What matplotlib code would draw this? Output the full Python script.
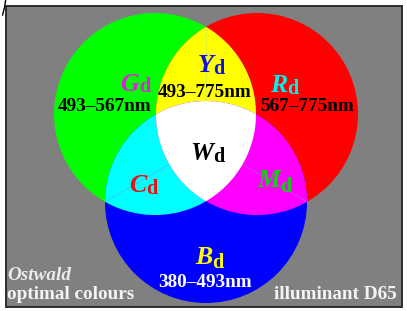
import numpy as np
import matplotlib
matplotlib.use('Agg')
import matplotlib.pyplot as plt
from matplotlib.patches import Circle, Polygon, Rectangle

# circle geometry (pixel units of the 407x311 picture)
radius = 101
centres = {'G': (155, 114), 'R': (257, 114), 'B': (206, 202)}
fills = {'G': '#00ff00', 'R': '#ff0000', 'B': '#0000ff'}
pairs = [('G', 'R', '#ffff00'), ('G', 'B', '#00ffff'), ('R', 'B', '#ff00ff')]

# labels: letter, complementary colour, joint x, baseline y, drop of the "d"
letters = ['G', 'Y', 'R', 'W', 'C', 'M', 'B']
letter_cols = ['#e020e0', '#1010e0', '#00f0f0', '#000000', '#e81010', '#10d010', '#ffff00']
letter_x = [138.5, 213, 287, 213, 146, 280, 212]
letter_y = [91, 72.5, 92.5, 160.5, 191.5, 187, 263.5]
sub_drop = [1, 2, 2, 1, 3, 5, 5]

ranges = ['493\u2013567nm', '493\u2013775nm', '567\u2013775nm', '380\u2013493nm']
range_cols = ['black', 'black', 'black', 'white']
range_x = [105, 205, 307, 205]
range_y = [111, 97, 111, 287]

serif = 'Liberation Serif'


def region(keys, n=2000):
    # polygon of the intersection of circles in keys
    pts = []
    t = np.linspace(0, 2 * np.pi, n, endpoint=False)
    for k in keys:
        cx, cy = centres[k]
        px = cx + radius * np.cos(t)
        py = cy + radius * np.sin(t)
        ok = np.ones(n, bool)
        for o in keys:
            if o == k:
                continue
            ox, oy = centres[o]
            ok &= (px - ox) ** 2 + (py - oy) ** 2 <= radius ** 2 + 1e-6
        pts.append(np.column_stack([px[ok], py[ok]]))
    pts = np.vstack(pts)
    c = pts.mean(axis=0)
    order = np.argsort(np.arctan2(pts[:, 1] - c[1], pts[:, 0] - c[0]))
    return pts[order]


def outer_point(a, b):
    # intersection of two circles farther from the third centre
    (x1, y1), (x2, y2) = centres[a], centres[b]
    d = np.hypot(x2 - x1, y2 - y1)
    mx, my = (x1 + x2) / 2, (y1 + y2) / 2
    h = np.sqrt(radius ** 2 - (d / 2) ** 2)
    ux, uy = -(y2 - y1) / d, (x2 - x1) / d
    other = [k for k in centres if k not in (a, b)][0]
    ox, oy = centres[other]
    cands = [(mx + h * ux, my + h * uy), (mx - h * ux, my - h * uy)]
    return max(cands, key=lambda p: np.hypot(p[0] - ox, p[1] - oy))


fig = plt.figure(figsize=(4.07, 3.11), dpi=100)
ax = fig.add_axes([0, 0, 1, 1])
ax.set_xlim(0, 407)
ax.set_ylim(311, 0)
ax.axis('off')

ax.add_patch(Rectangle((6, 6), 396, 301, facecolor='#808080',
                       edgecolor='#202020', lw=1.3, zorder=0))
ax.plot([5.8, 4.6, 2.6], [-1, 7, 15], color='black', lw=1.0)

for k in ['G', 'R', 'B']:
    ax.add_patch(Circle(centres[k], radius, facecolor=fills[k],
                        edgecolor='none', zorder=1))
for a, b, col in pairs:
    ax.add_patch(Polygon(region([a, b]), closed=True, facecolor=col,
                         edgecolor='none', zorder=2))

# faint seams from the outer crossing points to the centre
centroid = np.mean(list(centres.values()), axis=0)
seam_cols = ['#c8f040', '#40c0f8', '#c050f0']
for (a, b, col), sc in zip(pairs, seam_cols):
    p = outer_point(a, b)
    ax.plot([p[0], centroid[0]], [p[1], centroid[1]], color=sc, lw=0.5, zorder=3)

ax.add_patch(Polygon(region(['G', 'R', 'B']), closed=True, facecolor='white',
                     edgecolor='none', zorder=4))

for L, col, x, y, dy in zip(letters, letter_cols, letter_x, letter_y, sub_drop):
    ax.text(x, y, L, family=serif, style='italic', weight='bold', fontsize=18.5,
            color=col, ha='right', va='baseline', zorder=5)
    ax.text(x + 0.3, y + dy, 'd', family=serif, weight='bold', fontsize=14.5,
            color=col, ha='left', va='baseline', zorder=5)

for s, col, x, y in zip(ranges, range_cols, range_x, range_y):
    ax.text(x, y, s, family=serif, weight='bold', fontsize=13.8,
            color=col, ha='center', va='baseline', zorder=5)

ax.text(7, 280, 'Ostwald', family=serif, style='italic', weight='bold',
        fontsize=13.8, color='#ececec', ha='left', va='baseline', zorder=5)
ax.text(7, 299, 'optimal colours', family=serif, weight='bold',
        fontsize=13.8, color='#f4f4f4', ha='left', va='baseline', zorder=5)
ax.text(397, 299, 'illuminant D65', family=serif, weight='bold',
        fontsize=13.8, color='#f4f4f4', ha='right', va='baseline', zorder=5)

fig.savefig('out.png', dpi=100, facecolor='white')
